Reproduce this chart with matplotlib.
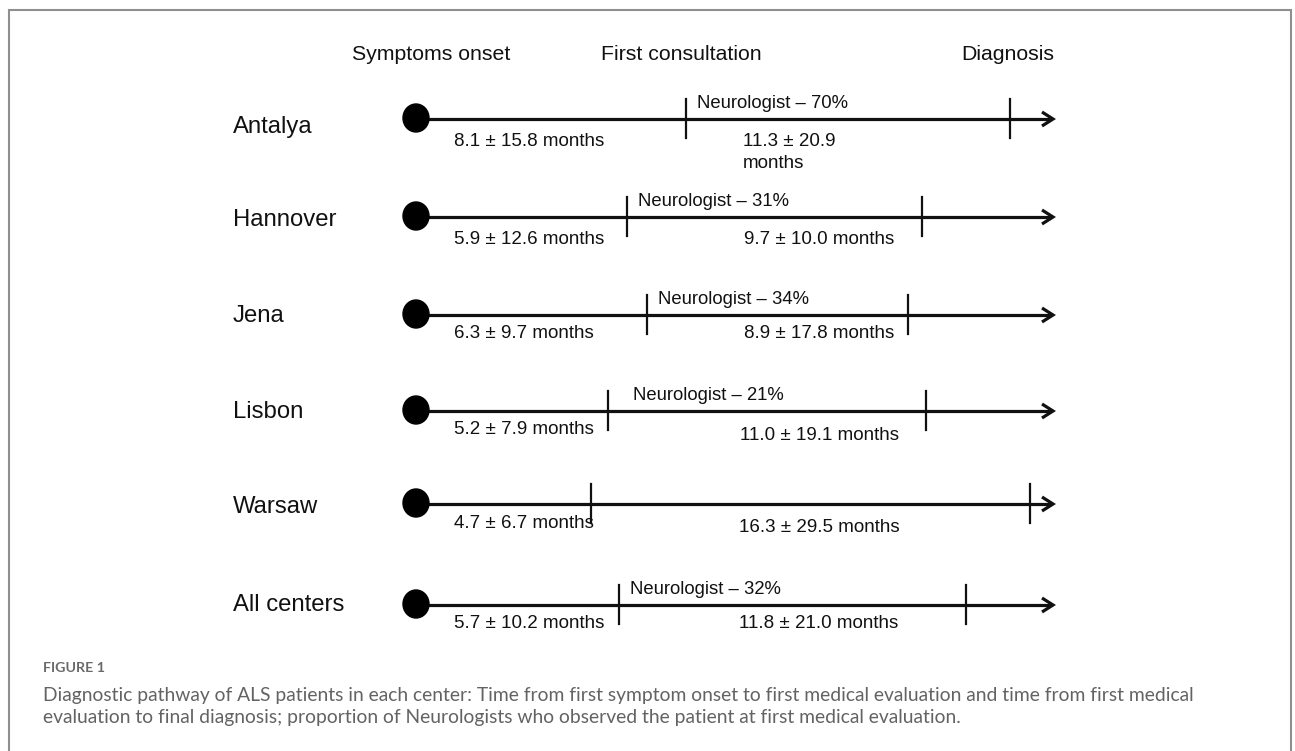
import matplotlib
matplotlib.use("Agg")
import matplotlib.pyplot as plt
from matplotlib.patches import Ellipse

# ---------------- data ----------------
centers = ["Antalya", "Hannover", "Jena", "Lisbon", "Warsaw", "All centers"]
onset_mean = [8.1, 5.9, 6.3, 5.2, 4.7, 5.7]
onset_sd = [15.8, 12.6, 9.7, 7.9, 6.7, 10.2]
diag_mean = [11.3, 9.7, 8.9, 11.0, 16.3, 11.8]
diag_sd = [20.9, 10.0, 17.8, 19.1, 29.5, 21.0]
neuro_pct = [70, 31, 34, 21, None, 32]
# positions of the marks along each timeline (0 = symptom onset, 100 = arrow tip)
consult_pos = [42.5, 33.3, 36.4, 30.3, 27.6, 32.0]
diagnosis_pos = [93.3, 79.5, 77.3, 80.1, 96.4, 86.4]
stage_labels = ["Symptoms onset", "First consultation", "Diagnosis"]
caption_head = "FIGURE 1"
caption_text = ("Diagnostic pathway of ALS patients in each center: Time from first symptom onset to first medical evaluation and time from first medical\n"
                "evaluation to final diagnosis; proportion of Neurologists who observed the patient at first medical evaluation.")

# ---------------- layout ----------------
W, H = 1295, 751
X0, X1 = 415, 1053          # pixel x of onset dot and arrow tip
row_y = [119, 217, 315, 411, 504, 605]
label_y = [127, 220, 316, 412, 507, 605]
t1_dy = [22, 23, 19, 19, 20, 18]
t2_dy = [23, 23, 19, 24, 23, 19]

def px(u):
    return X0 + (X1 - X0) * u / 100.0

fig = plt.figure(figsize=(W / 100, H / 100), dpi=100)
ax = fig.add_axes([0, 0, 1, 1])
ax.set_xlim(0, W)
ax.set_ylim(H, 0)
ax.axis("off")

chart_font = "Liberation Sans"
ink = "#111111"

# border
ax.plot([8.5, 8.5, 1291, 1291], [H + 5, 9.5, 9.5, H + 5], color="#8f8f8f", lw=1.5, solid_joinstyle="miter")

# header
for lab, xc in zip(stage_labels, [431, 681, 1008]):
    ax.text(xc, 55, lab, ha="center", va="center", fontsize=15.3, family=chart_font, color=ink)

for i, name in enumerate(centers):
    y = row_y[i]
    ax.text(233, label_y[i], name, ha="left", va="center", fontsize=17.2, family=chart_font, color=ink)
    # main line
    ax.plot([X0, X1 - 2], [y, y], color=ink, lw=2.3, solid_capstyle="butt", zorder=2)
    # arrow head (open chevron)
    ax.plot([X1 - 11, X1, X1 - 11], [y - 7, y, y + 7], color=ink, lw=2.3,
            solid_joinstyle="miter", solid_capstyle="butt", zorder=2)
    # onset dot
    ax.add_patch(Ellipse((X0 + 1, y - 1), 26, 28, color="black", zorder=3))
    # ticks
    xc = px(consult_pos[i])
    xd = px(diagnosis_pos[i])
    for xt in (xc, xd):
        ax.plot([xt, xt], [y - 20, y + 19], color=ink, lw=1.6, zorder=2)
    # texts
    ax.text(454, y + t1_dy[i], f"{onset_mean[i]} \u00b1 {onset_sd[i]} months", ha="left", va="center",
            fontsize=13.5, family=chart_font, color=ink)
    if name == "Antalya":
        ax.text(743, y + t2_dy[i], f"{diag_mean[i]} \u00b1 {diag_sd[i]}", ha="left", va="center",
                fontsize=13.5, family=chart_font, color=ink)
        ax.text(743, y + t2_dy[i] + 21, "months", ha="left", va="center",
                fontsize=13.5, family=chart_font, color=ink)
    else:
        ax.text(819, y + t2_dy[i], f"{diag_mean[i]} \u00b1 {diag_sd[i]} months", ha="center", va="center",
                fontsize=13.5, family=chart_font, color=ink)
    if neuro_pct[i] is not None:
        off = 25 if name == "Lisbon" else 11
        ax.text(xc + off, y - 15, f"Neurologist \u2013 {neuro_pct[i]}%", ha="left", va="center",
                fontsize=13.3, family=chart_font, color=ink)

# caption
cap_lines = caption_text.split("\n")
ax.text(43, 668, caption_head, ha="left", va="center", fontsize=10.3, family="Lato",
        fontweight="bold", color="#6a6a6a")
ax.text(43, 695, cap_lines[0], ha="left", va="center", fontsize=13.9, family="Lato",
        color="#636363")
ax.text(43, 718, cap_lines[1], ha="left", va="center", fontsize=13.9, family="Lato",
        color="#636363")

fig.savefig("out.png", dpi=100)
